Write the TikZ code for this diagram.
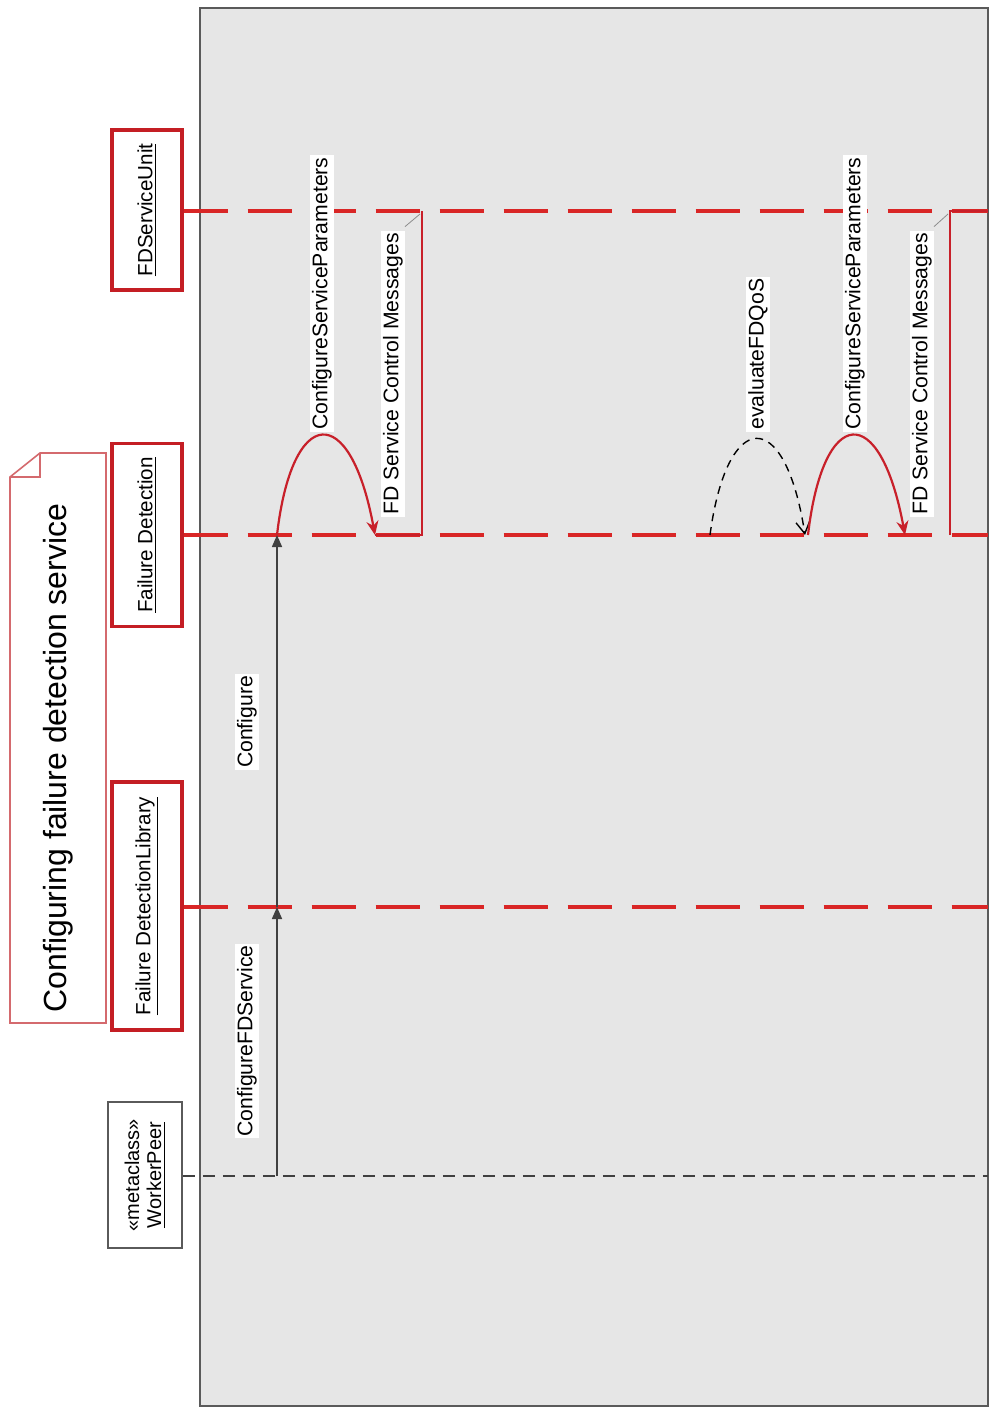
\documentclass[tikz,border=0pt]{standalone}
\usepackage{fontspec}
\setmainfont{Liberation Sans}
\usetikzlibrary{arrows.meta}
\definecolor{frameGray}{HTML}{E6E6E6}
\definecolor{frameLine}{HTML}{5A5A5A}
\definecolor{lifeRed}{HTML}{D92626}
\definecolor{boxRed}{HTML}{C41E24}
\definecolor{msgRed}{HTML}{C8202A}
\definecolor{noteRed}{HTML}{D46A6E}
\tikzset{
  lifebox/.style={draw=boxRed, line width=1.6pt, fill=white, rotate=90, minimum height=35pt, inner sep=2pt, font=\fontsize{10.3}{12}\selectfont},
  peerbox/.style={draw=frameLine, line width=0.8pt, fill=white, rotate=90, minimum height=37pt, inner sep=2pt, align=center, font=\fontsize{10}{11}\selectfont},
  redlife/.style={draw=lifeRed, line width=2.2pt, dash pattern=on 22pt off 10pt},
  blacklife/.style={draw=black!75, line width=0.6pt, dash pattern=on 6pt off 4pt},
  callarrow/.style={draw=black!75, line width=0.8pt, -{Triangle[length=6pt,width=5pt]}},
  redcall/.style={draw=msgRed, line width=1.1pt, -{Stealth[length=7pt,width=6pt]}},
  redline/.style={draw=msgRed, line width=1.1pt},
  dashcall/.style={draw=black, line width=0.7pt, dash pattern=on 4pt off 3pt, -{Straight Barb[length=6pt,width=7pt]}},
  msglabel/.style={rotate=90, fill=white, inner sep=1pt, font=\fontsize{10.6}{12}\selectfont},
  leader/.style={draw=black!45, line width=0.4pt}
}
\begin{document}
\begin{tikzpicture}[x=0.5pt,y=-0.5pt]
\useasboundingbox (0,0) rectangle (993,1410);
\fill[white] (0,0) rectangle (993,1410);
% frame
\draw[frameLine, line width=1pt, fill=frameGray] (200,8) rectangle (988,1406);

% note
\draw[noteRed, line width=0.8pt, fill=white] (10,477) -- (40,453) -- (106,453) -- (106,1023) -- (10,1023) -- cycle;
\draw[noteRed, line width=0.8pt] (40,453) -- (40,477) -- (10,477);
\node[rotate=90, font=\fontsize{16}{18}\selectfont] (title) at (58,758) {Configuring failure detection service};

% lifeline boxes
\node[lifebox, minimum width=80pt] (fdsu) at (147,210) {\underline{FDServiceUnit}};
\node[lifebox, minimum width=91.5pt] (fd) at (147,535) {\underline{Failure Detection}};
\node[lifebox, minimum width=124pt] (fdl) at (147,906) {\underline{Failure DetectionLibrary}};
\node[peerbox, minimum width=73pt] (wp) at (145,1175) {«metaclass»\\\underline{WorkerPeer}};

% lifeline ends
\coordinate (fdsuE) at (988,211);
\coordinate (fdE) at (988,535);
\coordinate (fdlE) at (988,907);
\coordinate (wpE) at (988,1176);
\draw[redlife] (fdsu.south |- fdsuE) -- (fdsuE);
\draw[redlife] (fd.south |- fdE) -- (fdE);
\draw[redlife] (fdl.south |- fdlE) -- (fdlE);
\draw[blacklife] (wp.south |- wpE) -- (wpE);

% message points
\coordinate (a0) at (277,1176);
\coordinate (a1) at (277,907);
\coordinate (a2) at (277,535);
\coordinate (a3) at (375,535);
\coordinate (a4) at (422,535);
\coordinate (a5) at (422,211);
\coordinate (b0) at (710,535);
\coordinate (b1) at (805,535);
\coordinate (b2) at (808,535);
\coordinate (b3) at (905,535);
\coordinate (b4) at (950,535);
\coordinate (b5) at (950,211);
\coordinate (b6) at (988,211);

% messages
\draw[callarrow] (a0) -- (a1);
\draw[callarrow] (a1) -- (a2);
\draw[redcall] (a2) .. controls (292,405) and (350,400) .. (a3);
\draw[redline] (a3) -- (a4) -- (a5);
\draw[dashcall] (b0) .. controls (727,408) and (785,405) .. (b1);
\draw[redcall] (b2) .. controls (823,405) and (880,400) .. (b3);
\draw[redline] (b4) -- (b5) -- (b6);

% labels
\node[msglabel] (lcfs) at (247,1041) {ConfigureFDService};
\node[msglabel] (lcfg) at (247,722) {Configure};
\node[msglabel, anchor=west] (lcsp1) at (322,432) {ConfigureServiceParameters};
\node[msglabel, anchor=west] (lfd1) at (393,517) {FD Service Control Messages};
\node[msglabel, anchor=west] (leval) at (758,432) {evaluateFDQoS};
\node[msglabel, anchor=west] (lcsp2) at (855,432) {ConfigureServiceParameters};
\node[msglabel, anchor=west] (lfd2) at (922,517) {FD Service Control Messages};

% leader ticks
\coordinate (t1) at (420,214);
\coordinate (t2) at (948,214);
\draw[leader] (lfd1.east) ++(12,-4) -- (t1);
\draw[leader] (lfd2.east) ++(12,-4) -- (t2);
\end{tikzpicture}
\end{document}
